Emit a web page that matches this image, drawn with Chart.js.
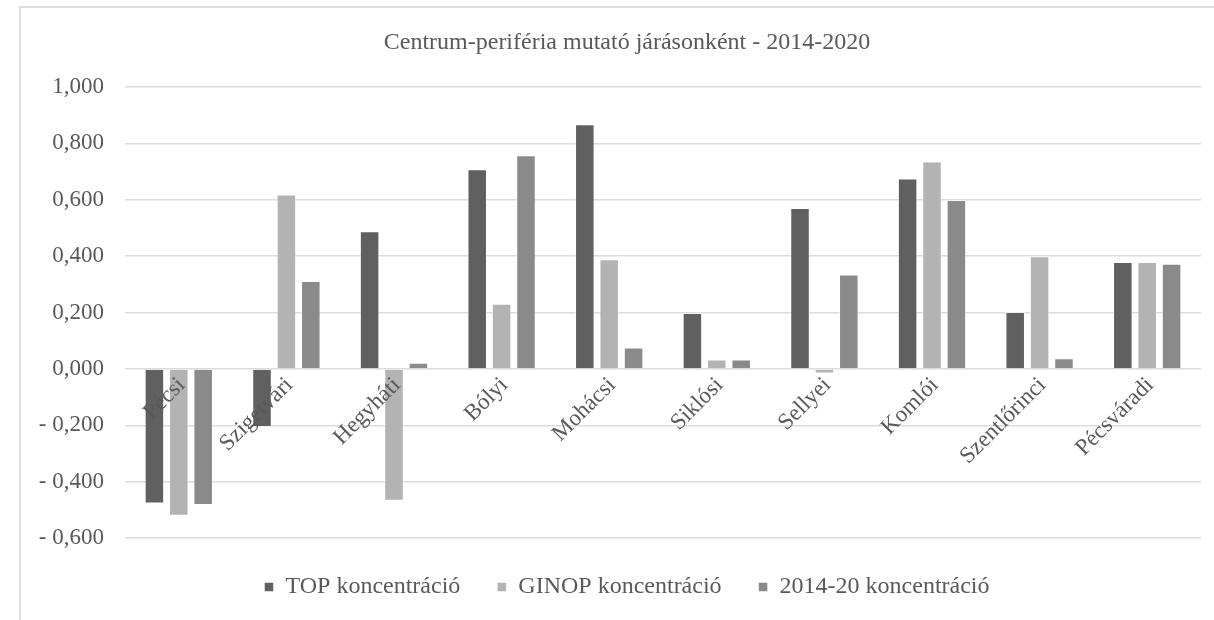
<!DOCTYPE html>
<html>
<head>
<meta charset="utf-8">
<script src="https://cdn.jsdelivr.net/npm/chart.js@4/dist/chart.umd.min.js"></script>
<style>
  html, body { margin: 0; padding: 0; background: #fff; }
  #frame {
    position: absolute; left: 19px; top: 6px; width: 1200px; height: 620px;
    border-top: 2px solid #dedede; border-left: 2px solid #dedede;
  }
  #wrap { position: absolute; left: 0; top: 0; width: 1214px; height: 620px; }
</style>
</head>
<body>
<div id="frame"></div>
<div id="wrap"><canvas id="chart1" width="1214" height="620"></canvas></div>
<script>
// districts (járások) on the x axis
const districts = ['Pécsi', 'Szigetvári', 'Hegyháti', 'Bólyi', 'Mohácsi', 'Siklósi', 'Sellyei', 'Komlói', 'Szentlőrinci', 'Pécsváradi'];

// series values
const topValues = [-0.478, -0.206, 0.488, 0.708, 0.868, 0.198, 0.571, 0.675, 0.202, 0.379];
const ginopValues = [-0.521, 0.619, -0.468, 0.231, 0.389, 0.033, -0.016, 0.736, 0.400, 0.379];
const totalValues = [-0.483, 0.312, 0.022, 0.758, 0.076, 0.033, 0.335, 0.599, 0.038, 0.373];

const seriesNames = ['TOP koncentráció', 'GINOP koncentráció', '2014-20 koncentráció'];

// y axis ticks
const yMin = -0.6;
const yMax = 1.0;
const yStep = 0.2;

const textColor = '#595959';
const fontFamily = "'Liberation Serif', 'Times New Roman', serif";

// number format like 0,000 and - 0,200
function formatTick(value) {
    let s = Math.abs(value).toFixed(3).replace('.', ',');
    if (value < -1e-9) {
        s = '- ' + s;
    }
    return s;
}

// title and legend sit a bit right of the plot centre in the original
const shiftBlocks = {
    id: 'shiftBlocks',
    afterLayout(chart) {
        for (const block of [chart.titleBlock, chart.legend]) {
            block.left += 20;
            block.right += 20;
        }
    }
};

const barStyle = {
    borderWidth: 1,
    borderColor: 'rgba(255,255,255,0.5)',
    categoryPercentage: 0.68,
    barPercentage: 0.8
};

new Chart(
    document.getElementById('chart1'),
    {
        type: 'bar',
        data: {
            labels: districts,
            datasets: [
                { label: seriesNames[0], data: topValues, backgroundColor: '#606060', ...barStyle },
                { label: seriesNames[1], data: ginopValues, backgroundColor: '#b3b3b3', ...barStyle },
                { label: seriesNames[2], data: totalValues, backgroundColor: '#8a8a8a', ...barStyle }
            ]
        },
        options: {
            responsive: false,
            animation: false,
            layout: {
                padding: { left: 13, right: 13, top: 0, bottom: 11 }
            },
            plugins: {
                title: {
                    display: true,
                    text: 'Centrum-periféria mutató járásonként - 2014-2020',
                    color: textColor,
                    font: { family: fontFamily, size: 24, weight: 'normal' },
                    padding: { top: 28.6, bottom: 29.6 }
                },
                legend: {
                    position: 'bottom',
                    labels: {
                        color: textColor,
                        font: { family: fontFamily, size: 24 },
                        boxWidth: 9,
                        boxHeight: 9,
                        padding: 37
                    }
                },
                tooltip: { enabled: false }
            },
            scales: {
                x: {
                    position: { y: 0 },
                    grid: { display: false, drawTicks: false },
                    border: { display: false },
                    ticks: {
                        z: 1,
                        color: textColor,
                        font: { family: fontFamily, size: 23 },
                        minRotation: 45,
                        maxRotation: 45,
                        autoSkip: false,
                        padding: 3,
                        labelOffset: 3
                    }
                },
                y: {
                    min: yMin,
                    max: yMax,
                    afterFit: (scale) => { scale.width = 112; },
                    grid: { color: '#dcdcdc', lineWidth: 1.5, drawTicks: false },
                    border: { display: false },
                    ticks: {
                        stepSize: yStep,
                        color: textColor,
                        font: { family: fontFamily, size: 23 },
                        padding: 21,
                        callback: (value) => formatTick(value)
                    }
                }
            }
        },
        plugins: [shiftBlocks]
    }
);
</script>
</body>
</html>
